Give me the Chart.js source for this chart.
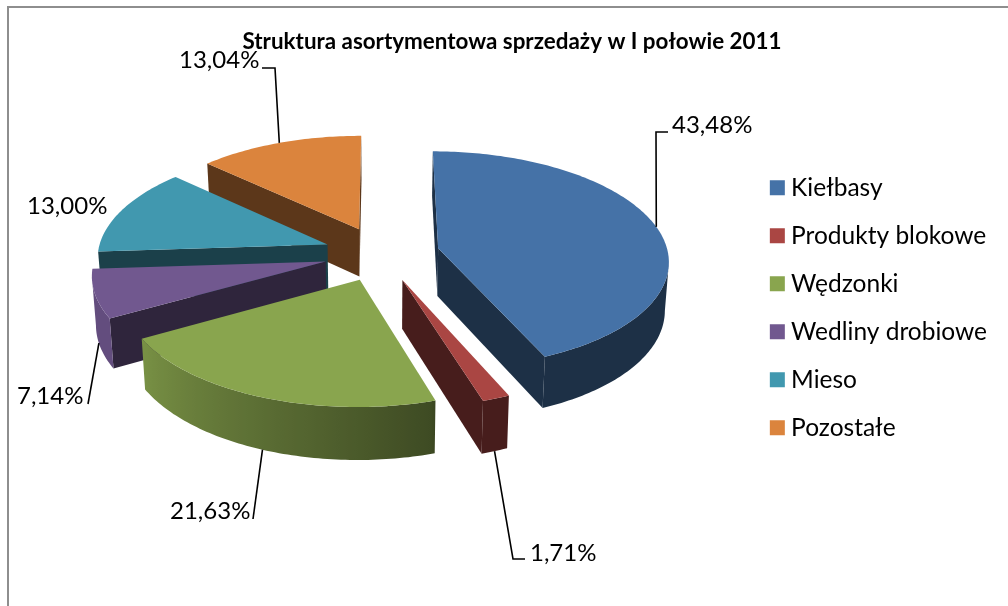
<!DOCTYPE html>
<html>
<head>
<meta charset="utf-8">
<style>
  html, body { margin: 0; padding: 0; background: #fff; overflow: hidden; }
  #frame { position: absolute; left: 7px; top: 6px; width: 1001px; height: 600px; box-sizing: border-box; border-left: 2px solid #8e8e8e; border-top: 2px solid #8e8e8e; }
  #pie { position: absolute; left: 0; top: 0; }
</style>
<script src="https://cdn.jsdelivr.net/npm/chart.js@4/dist/chart.umd.min.js"></script>
</head>
<body>
<div id="frame"></div>
<canvas id="pie" width="1008" height="606"></canvas>
<script>
const categories = ["Kiełbasy", "Produkty blokowe", "Wędzonki", "Wedliny drobiowe", "Mieso", "Pozostałe"];
const shares = [43.48, 1.71, 21.63, 7.14, 13.00, 13.04];
const colors = ["#4572A7", "#AA4643", "#89A54E", "#71588F", "#4198AF", "#DB843D"];
const chartTitle = "Struktura asortymentowa sprzedaży w I połowie 2011";

// where each percentage sits and the bend of its leader line
const labelSpots = [[672, 125], [530, 553], [170, 511], [17, 396], [27, 206], [179, 60]];
const leaderBends = [[[656, 132], [668, 132]], [[513, 559], [525, 559]], [[253, 519]], [[88, 404]], null, [[275, 68], [262, 68]]];

const NUDGE = 8;      // pie centre sits left of the chart area centre
const LIFT = 7.25;    // and above it
const SQUASH = 0.47;  // tilt of the pie plane
const PERSP = 0.105;  // front of the pie is bigger than the back
const DEPTH = 48;
const TAPER = 0.014;  // walls narrow a little towards the bottom
const LABEL_FONT = "24px Lato";

const shade = (hex, f) => {
    const n = parseInt(hex.slice(1), 16);
    const c = [n >> 16, (n >> 8) & 255, n & 255].map(v => Math.round(v * f));
    return `rgb(${c[0]},${c[1]},${c[2]})`;
};

// rim walls get lighter going round the front towards the left
const wallLight = (angle) => {
    const deg = (angle + Math.PI / 2) * 180 / Math.PI;
    if (deg <= 163) return 0.42;
    if (deg >= 240) return 0.88;
    return 0.45 + (deg - 163) / 77 * 0.43;
};

const pie3d = {
    id: "pie3d",
    beforeDatasetsDraw(chart) {
        const ctx = chart.ctx;
        const arcs = chart.getDatasetMeta(0).data;
        const first = arcs[0];
        const cx = first.x - NUDGE, cy = first.y - LIFT, R = first.outerRadius;

        const project = (X, Y, z) => {
            const w = 1 / (1 - PERSP * Y / R);
            const t = 1 - TAPER * z;
            return [cx + X * w * t, cy + SQUASH * Y * w * t + DEPTH * z * w];
        };

        const fillPoly = (pts, color) => {
            ctx.beginPath();
            pts.forEach((p, i) => i ? ctx.lineTo(p[0], p[1]) : ctx.moveTo(p[0], p[1]));
            ctx.closePath();
            ctx.fillStyle = color;
            ctx.fill();
        };

        // back slices first, the way they overlap in the picture
        for (let i = arcs.length - 1; i >= 0; i--) {
            const arc = arcs[i];
            const off = arc.options.offset;
            const mid = (arc.startAngle + arc.endAngle) / 2;
            const ox = Math.cos(mid) * off, oy = Math.sin(mid) * off;
            const base = arc.options.backgroundColor;

            const rim = [];
            const steps = Math.max(4, Math.ceil((arc.endAngle - arc.startAngle) * 180 / Math.PI));
            for (let s = 0; s <= steps; s++) {
                const a = arc.startAngle + (arc.endAngle - arc.startAngle) * s / steps;
                rim.push({ a, X: ox + Math.cos(a) * R, Y: oy + Math.sin(a) * R });
            }
            const apex = { X: ox, Y: oy };
            const wall = (p, q) => [project(p.X, p.Y, 0), project(q.X, q.Y, 0), project(q.X, q.Y, 1), project(p.X, p.Y, 1)];
            const cutColor = shade(base, 0.42);

            // the two cut faces, only when they turn towards the viewer
            [[apex, rim[0]], [rim[rim.length - 1], apex]].forEach(([p, q]) => {
                const pts = wall(p, q);
                if (pts[1][0] < pts[0][0]) fillPoly(pts, cutColor);
            });

            // the visible part of the rim is one polygon with a sideways gradient
            const seen = rim.filter((p, n) => {
                const q = rim[n + 1], o = rim[n - 1];
                const leftward = (u, v) => project(v.X, v.Y, 0)[0] < project(u.X, u.Y, 0)[0];
                return (q && leftward(p, q)) || (o && leftward(o, p));
            });
            if (seen.length > 1) {
                const xs = seen.map(p => project(p.X, p.Y, 0)[0]);
                const right = Math.max(...xs), left = Math.min(...xs);
                const grad = ctx.createLinearGradient(left, 0, right, 0);
                seen.forEach((p, n) => {
                    const pos = right > left ? (xs[n] - left) / (right - left) : 0;
                    grad.addColorStop(pos, shade(base, wallLight(p.a)));
                });
                const outline = [
                    ...seen.map(p => project(p.X, p.Y, 0)),
                    ...seen.slice().reverse().map(p => project(p.X, p.Y, 1))
                ];
                fillPoly(outline, grad);
            }

            fillPoly([apex, ...rim].map(p => project(p.X, p.Y, 0)), base);
        }

        // leader lines start on the rim at the slice's middle angle
        ctx.strokeStyle = "#000";
        ctx.lineWidth = 1.6;
        arcs.forEach((arc, i) => {
            if (!leaderBends[i]) return;
            const off = arc.options.offset + R;
            const mid = (arc.startAngle + arc.endAngle) / 2;
            const start = project(Math.cos(mid) * off, Math.sin(mid) * off, Math.sin(mid) > 0 ? 1 : 0);
            ctx.beginPath();
            ctx.moveTo(start[0], start[1]);
            leaderBends[i].forEach(p => ctx.lineTo(p[0], p[1]));
            ctx.stroke();
        });

        ctx.fillStyle = "#000";
        ctx.font = LABEL_FONT;
        ctx.textBaseline = "middle";
        ctx.textAlign = "left";
        shares.forEach((v, i) => {
            ctx.fillText(v.toFixed(2).replace(".", ",") + "%", labelSpots[i][0], labelSpots[i][1]);
        });
        return false;
    }
};

new Chart(document.getElementById("pie"), {
    type: "pie",
    data: {
        labels: categories,
        datasets: [{ data: shares, backgroundColor: colors, offset: 58, radius: 230, borderWidth: 0 }]
    },
    options: {
        responsive: false,
        animation: false,
        layout: { padding: { left: 27, right: 11, top: 0, bottom: 142.5 } },
        plugins: {
            tooltip: { enabled: false },
            title: {
                display: true,
                text: chartTitle,
                color: "#000",
                font: { family: "Lato", size: 22.4, weight: "bold" },
                padding: { top: 28.5, bottom: 3 }
            },
            legend: {
                position: "right",
                align: "end",
                labels: {
                    color: "#000",
                    font: { family: "Lato", size: 24.5 },
                    boxWidth: 3,
                    boxHeight: 3,
                    padding: 23.5,
                    generateLabels: chart => Chart.overrides.pie.plugins.legend.labels.generateLabels(chart).map(l => ({
                        ...l, lineWidth: 12, strokeStyle: l.fillStyle
                    }))
                }
            }
        }
    },
    plugins: [pie3d]
});
</script>
</body>
</html>
